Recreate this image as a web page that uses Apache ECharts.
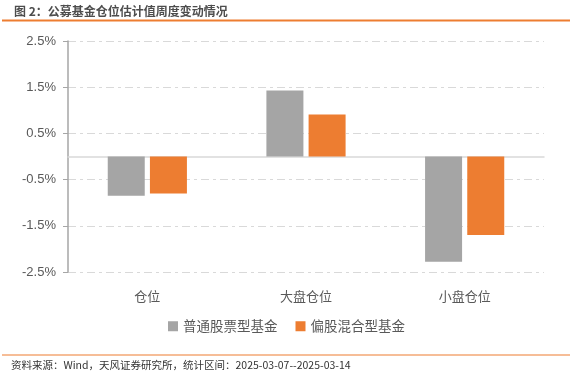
<!DOCTYPE html>
<html>
<head>
<meta charset="utf-8">
<script src="https://cdn.jsdelivr.net/npm/echarts@6/dist/echarts.min.js"></script>
<style>
  html, body { margin: 0; padding: 0; background: #fff; }
  #chart { width: 573px; height: 378px; }
</style>
</head>
<body>
<div id="chart"></div>
<script>
// 数据
var categories = ['仓位', '大盘仓位', '小盘仓位'];
var seriesNames = ['普通股票型基金', '偏股混合型基金'];
var stockFund = [-0.85, 1.43, -2.28];   // 普通股票型基金
var mixedFund = [-0.80, 0.91, -1.70];   // 偏股混合型基金
var yMin = -2.5, yMax = 2.5, yStep = 1;

var font = '"Noto Sans CJK SC", "Microsoft YaHei", sans-serif';
var myChart = echarts.init(document.getElementById('chart'));

myChart.setOption({
  animation: false,
  color: ['#A5A5A5', '#ED7D31'],
  title: {
    text: '图 2：公募基金仓位估计值周度变动情况',
    left: 9, top: 0,
    textStyle: { fontSize: 12, fontWeight: 'bold', color: '#4d4d4d', fontFamily: font }
  },
  graphic: [
    { type: 'rect', shape: { x: 2, y: 19.5, width: 568, height: 2 }, style: { fill: '#ED7D31' } },
    { type: 'rect', shape: { x: 2, y: 354.5, width: 568, height: 1 }, style: { fill: '#ED7D31' } },
    {
      type: 'text', left: 11, top: 360,
      style: { text: '资料来源：Wind，天风证券研究所，统计区间：2025-03-07--2025-03-14', fontSize: 10.5, fill: '#333', fontFamily: font }
    }
  ],
  legend: {
    data: seriesNames,
    bottom: 40,
    left: 'center',
    itemWidth: 10, itemHeight: 10, itemGap: 18,
    icon: 'rect',
    textStyle: { fontSize: 13.5, color: '#595959', fontFamily: font }
  },
  grid: { left: 68, right: 29, top: 41, bottom: 106 },
  xAxis: {
    type: 'category',
    data: categories,
    axisLine: { onZero: true, lineStyle: { color: '#D9D9D9', width: 1.5 } },
    axisTick: { show: false },
    axisLabel: { fontSize: 13, color: '#595959', fontFamily: font, margin: 18 },
    position: 'bottom'
  },
  yAxis: {
    type: 'value',
    min: yMin, max: yMax, interval: yStep,
    axisLine: { show: true, lineStyle: { color: '#A6A6A6', width: 1.5 } },
    axisTick: { show: true, length: 5, lineStyle: { color: '#A6A6A6' } },
    axisLabel: {
      fontSize: 13, color: '#595959', fontFamily: 'Liberation Sans, Arial, sans-serif', margin: 12,
      formatter: function (v) { return v.toFixed(1) + '%'; }
    },
    splitLine: { lineStyle: { color: '#D9D9D9', type: [8, 4, 3, 4], width: 1 } }
  },
  series: [
    { name: seriesNames[0], type: 'bar', data: stockFund, barWidth: 37, barGap: '14%' },
    { name: seriesNames[1], type: 'bar', data: mixedFund, barWidth: 37 }
  ]
});
</script>
</body>
</html>
